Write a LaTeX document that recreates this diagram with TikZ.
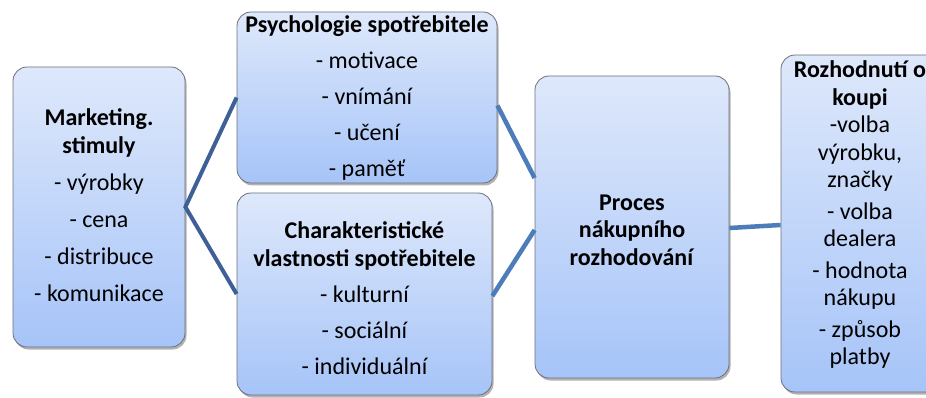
\documentclass[tikz,border=0pt]{standalone}
\usepackage{fontspec}
\setmainfont{Carlito}
\usetikzlibrary{shadows,calc}
\definecolor{linec}{RGB}{76,125,186}
\definecolor{linedark}{RGB}{62,96,150}
\definecolor{topc}{RGB}{222,232,251}
\definecolor{botc}{RGB}{166,196,248}
\definecolor{edgec}{RGB}{110,112,125}
\begin{document}
\begin{tikzpicture}[x=1pt,y=-1pt,
 box/.style={draw=edgec, line width=0.8pt, rounded corners=14pt, top color=topc, bottom color=botc,
   drop shadow={shadow xshift=1.5pt,shadow yshift=-2.5pt,fill=black,opacity=0.3}, inner sep=0pt},
 txt/.style={align=center, font=\fontsize{24}{27.5}\selectfont, inner sep=0pt},
 conn/.style={draw=linec, line width=4.5pt},
 conndark/.style={draw=linedark, line width=4pt}]
\useasboundingbox (0,0) rectangle (926,398);
\node[box, minimum width=172pt, minimum height=280pt] (A) at (99,207) {};
\node[box, minimum width=260pt, minimum height=171pt] (B) at (367,97.5) {};
\node[box, minimum width=255pt, minimum height=202pt] (C) at (364.5,294) {};
\node[box, minimum width=194pt, minimum height=302pt] (D) at (632,227) {};
\node[box, minimum width=158pt, minimum height=337pt] (E) at (860,223.5) {};
\coordinate (Bout) at ($(B.east)+(0,8)$);
\coordinate (Din1) at ($(D.west)+(0,-49)$);
\coordinate (Cout) at ($(C.east)+(0,2)$);
\coordinate (Din2) at ($(D.west)+(0,3)$);
\coordinate (Dout) at ($(D.east)+(0,1)$);
\coordinate (Ein) at ($(E.west)+(0,1.5)$);
\draw[conndark] (B.west) -- (A.east) -- (C.west);
\draw[conn] (Bout) -- (Din1);
\draw[conn] (Cout) -- (Din2);
\draw[conn] (Dout) -- (Ein);
\node[txt] (At) at (99,205) {\textbf{Marketing.}\\[1pt] \textbf{stimuly}\\[9.5pt] - výrobky\\[9.5pt] - cena\\[9.5pt] - distribuce\\[9.5pt] - komunikace};
\node[txt] (Bt) at (367,98) {\textbf{Psychologie spotřebitele}\\[8.5pt] - motivace\\[8.5pt] - vnímání\\[8.5pt] - učení\\[8.5pt] - paměť};
\node[txt] (Ct) at (364.5,298) {\textbf{Charakteristické}\\ \textbf{vlastnosti spotřebitele}\\[8.5pt] - kulturní\\[8.5pt] - sociální\\[8.5pt] - individuální};
\node[txt] (Dt) at (632,230) {\textbf{Proces}\\ \textbf{nákupního}\\ \textbf{rozhodování}};
\node[txt] (Et) at (860,215) {\textbf{Rozhodnutí o}\\ \textbf{koupi}\\ -volba\\ výrobku,\\ značky\\[4pt] - volba\\ dealera\\[4pt] - hodnota\\ nákupu\\[4pt] - způsob\\ platby};
\end{tikzpicture}
\end{document}
